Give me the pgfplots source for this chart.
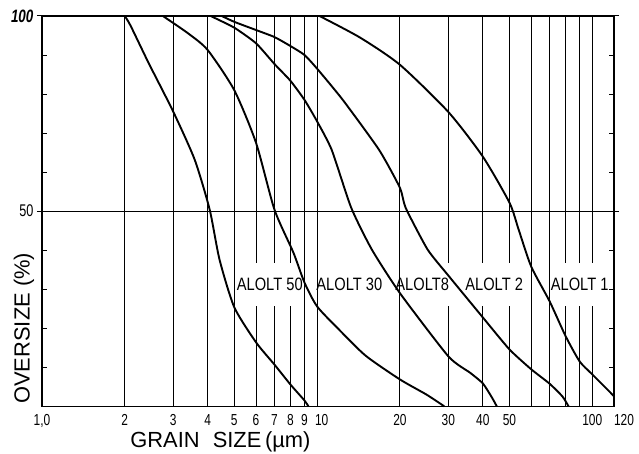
\documentclass[border=0pt]{standalone}
\usepackage{pgfplots}
\pgfplotsset{compat=1.18}
\usepackage{fontspec}
\setmainfont{Liberation Sans}
\newfontfamily\narrow[FakeStretch=0.82]{Liberation Sans}
\newfontfamily\ticknarrow[FakeStretch=0.75]{Liberation Sans}
\begin{document}
\begin{tikzpicture}
\begin{axis}[
 scale only axis, width=573bp, height=391bp,
 xmode=log, xmin=1, xmax=120, ymin=0, ymax=100,
 xtick={1,2,3,4,5,6,7,8,9,10,20,30,40,50,60,70,80,90,100,120},
 xticklabels={{1,0},2,3,4,5,6,7,8,9,\makebox[0pt][l]{\hspace{-2bp}10},20,30,40,50,,,,,100,\makebox[0pt][l]{120}},
 minor xtick={},
 xmajorgrids,
 ytick={50,100}, yticklabels={50,{\fontsize{18}{18}\selectfont\bfseries\itshape 100}},
 ymajorgrids,
 extra y ticks={10,20,30,40,60,70,80,90},
 extra y tick labels={},
 extra y tick style={ymajorgrids=false, tick align=inside},
 xtick style={draw=none},
 ytick style={black, line width=1bp},
 tick align=outside, major tick length=5bp,
 grid style={black, line width=1.1bp},
 axis line style={black, line width=1.2bp},
 xticklabel style={font=\ticknarrow\fontsize{16}{16}\selectfont},
 yticklabel style={font=\ticknarrow\fontsize{17}{17}\selectfont},
 /pgf/number format/assume math mode=true,
 xlabel={GRAIN\hspace{0.6em}SIZE\,(µm)},
 xlabel style={at={(rel axis cs:0.312,-0.09)}, anchor=center, inner sep=0pt, font=\fontsize{22}{22}\selectfont},
 ylabel={OVERSIZE (\%)},
 ylabel style={at={(rel axis cs:-0.0314,0.2)}, anchor=center, inner sep=0pt, font=\fontsize{22}{22}\selectfont},
 clip=false,
]
% gaps in the grid lines behind the curve labels
\fill[white] (axis cs:5.3,25.8) rectangle (axis cs:8.6,36.8);
\fill[white] (axis cs:22,25.8) rectangle (axis cs:33,36.8);
\fill[white] (axis cs:36,25.8) rectangle (axis cs:57,36.8);
\fill[white] (axis cs:75,25.8) rectangle (axis cs:110,36.8);

% ALOLT 50
\addplot[black, line width=1.9bp, smooth, tension=0.4] coordinates {
 (2,100) (2.1,97.5) (2.44,88) (3,75.5) (3.59,63.2) (4.07,50.4)
 (4.42,37.6) (5,25.4) (6,16.4) (7,10.7) (8,5.6) (9,1.5) (9.3,0)};
% ALOLT 30
\addplot[black, line width=1.9bp, smooth, tension=0.4] coordinates {
 (2.75,100) (3.39,95.6) (4,91.3) (5,81) (6,67.5) (7,50.4)
 (8.2,39.4) (9,31.7) (10,25.6) (12,19.7) (15,13) (20,6.9)
 (25,3) (29,0)};
% ALOLT 8
\addplot[black, line width=1.9bp, smooth, tension=0.35] coordinates {
 (4.1,100) (5,97) (6,93) (7,87.7) (8,83.4) (9,78.5) (10,73) (11.3,65.7)
 (13.3,50.9) (15.8,40.2) (20,29) (30,12.8) (36,8.6) (40,5.9) (43,2.5) (45,0)};
% ALOLT 2
\addplot[black, line width=1.9bp, smooth, tension=0.35] coordinates {
 (4.5,100) (5,98.5) (6,96.4) (7,94.6) (8,92.3) (9,90) (10,86.5)
 (12.4,78.5) (16.8,65.7) (20,56) (21,50.8) (25.2,40.2) (30,33.5) (40,22.8)
 (50,14.6) (60,9.5) (70,5.8) (78,2.5) (82,0)};
% ALOLT 1
\addplot[black, line width=1.9bp, smooth, tension=0.4] coordinates {
 (10.2,100) (14.3,94.5) (20,87.5) (30,75.4) (40,64) (50,52.2) (54,45.3)
 (60,35.8) (70,26.9) (80,18) (90,11.5) (100,8.2) (120,2.6)};

\node[font=\narrow\fontsize{18}{18}\selectfont] at (axis cs:6.73,31.2) {ALOLT 50};
\node[font=\narrow\fontsize{18}{18}\selectfont] at (axis cs:13.1,31.2) {ALOLT 30};
\node[font=\narrow\fontsize{18}{18}\selectfont] at (axis cs:24.1,31.2) {ALOLT8};
\node[font=\narrow\fontsize{18}{18}\selectfont] at (axis cs:44,31.2) {ALOLT 2};
\node[font=\narrow\fontsize{18}{18}\selectfont] at (axis cs:90,31.2) {ALOLT 1};
\end{axis}
\path ([shift={(-42bp,-47bp)}]current axis.south west) rectangle ([shift={(25bp,16bp)}]current axis.north east);
\end{tikzpicture}
\end{document}
